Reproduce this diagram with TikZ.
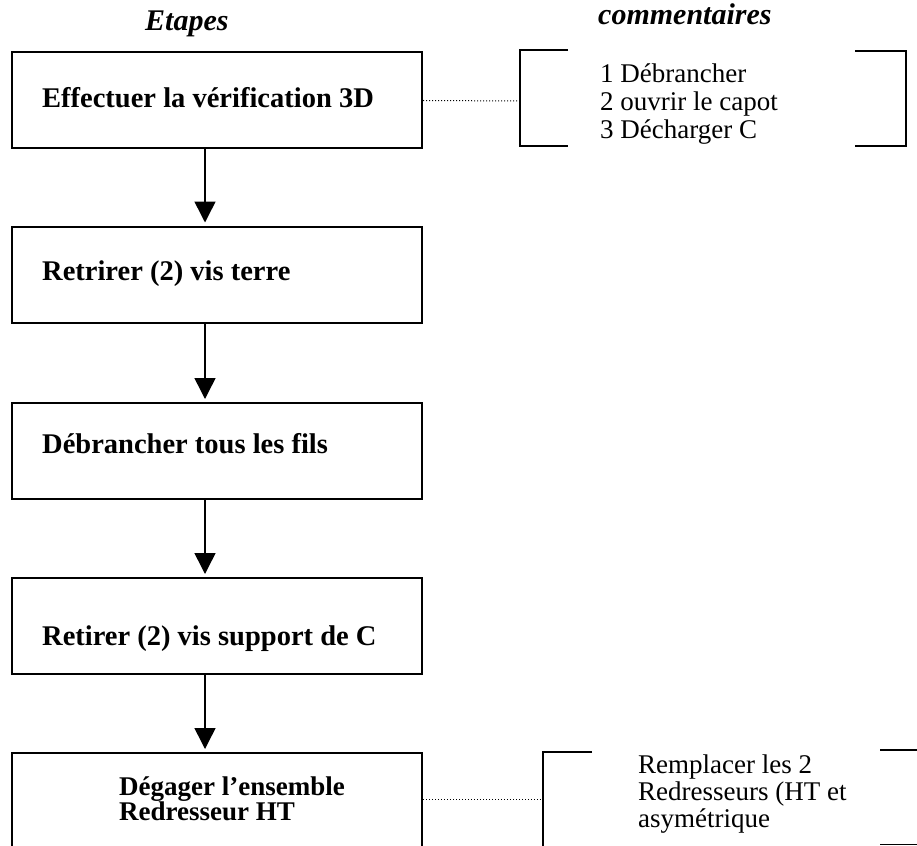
\documentclass[tikz,border=0pt]{standalone}
\usepackage{fontspec}
\setmainfont{Liberation Serif}
\usetikzlibrary{arrows.meta}
\tikzset{
  stepbox/.style={draw, line width=2pt, minimum width=410pt, minimum height=96pt, inner sep=0pt},
  steptext/.style={anchor=base west, inner sep=0pt, font=\fontsize{28.5}{30}\selectfont\bfseries},
  steptextsmall/.style={anchor=base west, inner sep=0pt, font=\fontsize{27}{28}\selectfont\bfseries},
  commtext/.style={anchor=base west, inner sep=0pt, font=\fontsize{27}{28}\selectfont},
  headtext/.style={anchor=base west, inner sep=0pt, font=\fontsize{30}{32}\selectfont\bfseries\itshape},
  arr/.style={line width=1.5pt, -{Triangle[width=21pt,length=21pt]}, shorten >=3pt},
  dotline/.style={line width=1pt, dotted},
  brk/.style={line width=2pt}
}
\begin{document}
\begin{tikzpicture}[x=1pt,y=-1pt]
\useasboundingbox (0,0) rectangle (917,845);
\clip (0,0) rectangle (917,845);
% headers
\node[headtext] (h1) at (145,31) {Etapes};
\node[headtext] (h2) at (598,25) {commentaires};
% boxes
\node[stepbox] (b1) at (217,100.5) {};
\node[stepbox] (b2) at (217,274.5) {};
\node[stepbox] (b3) at (217,451) {};
\node[stepbox] (b4) at (217,626) {};
\node[stepbox, minimum height=120pt] (b5) at (217,813) {};
% box texts
\node[steptext] (t1) at (42,108) {Effectuer la vérification 3D};
\node[steptext] (t2) at (42,280) {Retrirer (2) vis terre};
\node[steptext] (t3) at (42,453) {Débrancher tous les fils};
\node[steptext] (t4) at (42,645) {Retirer (2) vis support de C};
\node[steptextsmall] (t5a) at (119,795) {Dégager l’ensemble};
\node[steptextsmall] (t5b) at (119,820) {Redresseur HT};
% arrows
\draw[arr] ([xshift=-12pt]b1.south) -- ([xshift=-12pt]b2.north);
\draw[arr] ([xshift=-12pt]b2.south) -- ([xshift=-12pt]b3.north);
\draw[arr] ([xshift=-12pt]b3.south) -- ([xshift=-12pt]b4.north);
\draw[arr] ([xshift=-12pt]b4.south) -- ([xshift=-12pt]b5.north);
% top comment bracket
\coordinate (c1) at (520,101);
\draw[dotline] (b1.east) -- (c1);
\draw[brk] (568,50) -- (520,50) -- (520,146) -- (568,146);
\draw[brk] (855,51) -- (906,51) -- (906,146) -- (855,146);
\node[commtext] (k1) at (600,83) {1 Débrancher};
\node[commtext] (k2) at (600,111) {2 ouvrir le capot};
\node[commtext] (k3) at (600,139) {3 Décharger C};
% bottom comment bracket
\coordinate (c2) at (543,799);
\draw[dotline] (b5.east |- c2) -- (c2);
\draw[brk] (592,752) -- (543,752) -- (543,860);
\draw[brk] (880,750) -- (930,750);
\draw[line width=1pt] (880,844) -- (930,844);
\node[commtext] (k4) at (638,773) {Remplacer les 2};
\node[commtext] (k5) at (638,800) {Redresseurs (HT et};
\node[commtext] (k6) at (638,827) {asymétrique};
\end{tikzpicture}
\end{document}
